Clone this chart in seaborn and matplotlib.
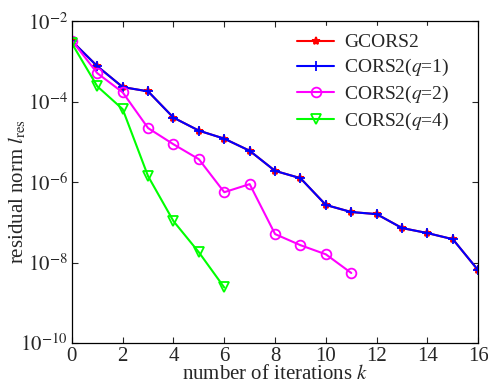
import numpy as np
import pandas as pd
import matplotlib
matplotlib.use("Agg")
import matplotlib.pyplot as plt
import matplotlib.ticker as mticker
import seaborn as sns

# residual norms
k_gcors2 = list(range(17))
res_gcors2 = [3.2e-3, 7.6e-4, 2.3e-4, 1.8e-4, 4.0e-5, 1.9e-5, 1.2e-5, 6.0e-6,
              1.9e-6, 1.25e-6, 2.7e-7, 1.8e-7, 1.6e-7, 7.2e-8, 5.4e-8, 3.8e-8, 6.4e-9]
k_q1 = list(range(17))
res_q1 = list(res_gcors2)
k_q2 = list(range(12))
res_q2 = [3.3e-3, 5.1e-4, 1.7e-4, 2.2e-5, 8.7e-6, 3.7e-6, 5.6e-7, 8.9e-7,
          5.1e-8, 2.7e-8, 1.6e-8, 5.5e-9]
k_q4 = list(range(7))
res_q4 = [2.8e-3, 2.4e-4, 6.5e-5, 1.4e-6, 1.07e-7, 1.8e-8, 2.4e-9]
y_ticks = [1e-10, 1e-8, 1e-6, 1e-4, 1e-2]

sns.set_style("ticks")
plt.rcParams['font.family'] = ['Liberation Serif', 'DejaVu Serif']
plt.rcParams['mathtext.fontset'] = 'stix'
plt.rcParams['xtick.direction'] = 'in'
plt.rcParams['ytick.direction'] = 'in'

fig = plt.figure(figsize=(4.89, 3.92), dpi=100)
ax = fig.add_axes([0.147, 0.125, 0.831, 0.821])

series = [
    ('GCORS2', k_gcors2, res_gcors2, '#ff0000', '*', '#ff0000', 6),
    ('CORS2($q$=1)', k_q1, res_q1, '#0000ff', '+', '#0000ff', 7),
    ('CORS2($q$=2)', k_q2, res_q2, '#ff00ff', 'o', 'none', 7),
    ('CORS2($q$=4)', k_q4, res_q4, '#00ff00', 'v', 'none', 7),
]
for name, k, r, c, m, mfc, ms in series:
    df = pd.DataFrame({'k': k, 'res': r})
    sns.lineplot(data=df, x='k', y='res', ax=ax, color=c, marker=m,
                 markerfacecolor=mfc, markeredgecolor=c, markersize=ms,
                 markeredgewidth=1.3, linewidth=1.5, label=name)

ax.set_yscale('log')
ax.set_xlim(0, 16)
ax.set_ylim(1e-10, 1e-2)
ax.set_xticks(range(0, 17, 2))
ax.yaxis.set_major_locator(mticker.FixedLocator(y_ticks))
ax.yaxis.set_minor_locator(mticker.NullLocator())
ax.yaxis.set_major_formatter(
    mticker.FuncFormatter(lambda v, p: r'$10^{%d}$' % int(round(np.log10(v)))))
ax.tick_params(axis='both', which='major', labelsize=15, length=4, width=0.8,
               top=True, right=True, pad=3)
for s in ax.spines.values():
    s.set_linewidth(0.9)
    s.set_color('black')

ax.set_xlabel('number of iterations $k$', fontsize=15, labelpad=-1)
ax.set_ylabel('residual norm $l_{\\mathrm{res}}$', fontsize=15)
ax.yaxis.set_label_coords(-0.108, 0.47)

leg = ax.legend(loc='upper right', bbox_to_anchor=(0.96, 1.0), fontsize=14,
                frameon=True, fancybox=False, handlelength=1.9,
                handletextpad=0.5, labelspacing=0.3,
                borderaxespad=0.25, borderpad=0.4)
leg.get_frame().set_edgecolor('white')
leg.get_frame().set_facecolor('white')
leg.get_frame().set_alpha(1.0)

fig.savefig('out.png', dpi=100)
